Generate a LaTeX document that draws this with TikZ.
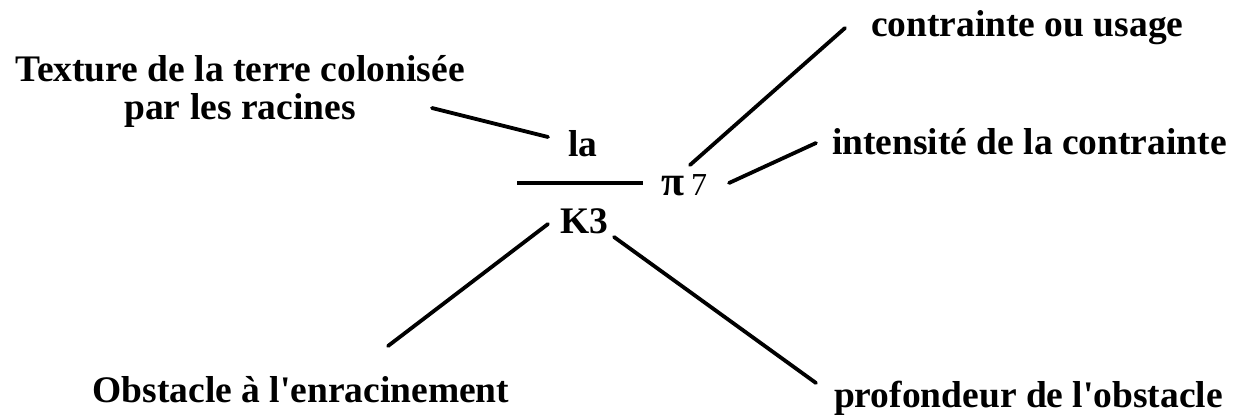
\documentclass[tikz,border=0pt]{standalone}
\usepackage{fontspec}
\setmainfont{Liberation Serif}[Ligatures=TeXOff]
\begin{document}
\begin{tikzpicture}[x=1pt,y=-1pt,
  lab/.style={font=\fontsize{37.5}{38}\selectfont\bfseries, inner sep=0pt, outer sep=0pt},
  sym/.style={font=\fontsize{42}{42}\selectfont\bfseries, inner sep=0pt, outer sep=0pt},
  conn/.style={line width=3.8pt, line cap=round}]
\useasboundingbox[fill=white] (0,0) rectangle (1233,417);
% labels
\node[lab, anchor=base, align=center] (tex) at (240,120) {Texture de la terre colonisée\\par les racines};
\node[lab, anchor=base west] (cou) at (871,37) {contrainte ou usage};
\node[lab, anchor=base west] (int) at (832,154) {intensité de la contrainte};
\node[lab, anchor=base] (obs) at (301,402) {Obstacle à l'enracinement};
\node[lab, anchor=base west] (pro) at (834,407) {profondeur de l'obstacle};
% central expression
\node[lab, anchor=base] (la) at (583,157) {la};
\node[lab, anchor=base] (k3) at (584,233) {K3};
\node[sym, anchor=base west] (pi) at (661,195) {π};
\node[anchor=base west, inner sep=0pt, font=\fontsize{32}{32}\selectfont] (sev) at (691,195) {7};
\coordinate (barL) at (517,183);
\coordinate (barR) at (643,183);
\draw[line width=3.4pt] (barL) -- (barR);
% connector ends
\coordinate (c1a) at (432,108);
\coordinate (c1b) at (548,137);
\coordinate (c2a) at (690,165);
\coordinate (c2b) at (845,28);
\coordinate (c3a) at (729,183);
\coordinate (c3b) at (816,143);
\coordinate (c4a) at (548,224);
\coordinate (c4b) at (388,346);
\coordinate (c5a) at (614,237);
\coordinate (c5b) at (816,383);
\draw[conn] (c1a) -- (c1b);
\draw[conn] (c2a) -- (c2b);
\draw[conn] (c3a) -- (c3b);
\draw[conn] (c4a) -- (c4b);
\draw[conn] (c5a) -- (c5b);
\end{tikzpicture}
\end{document}
